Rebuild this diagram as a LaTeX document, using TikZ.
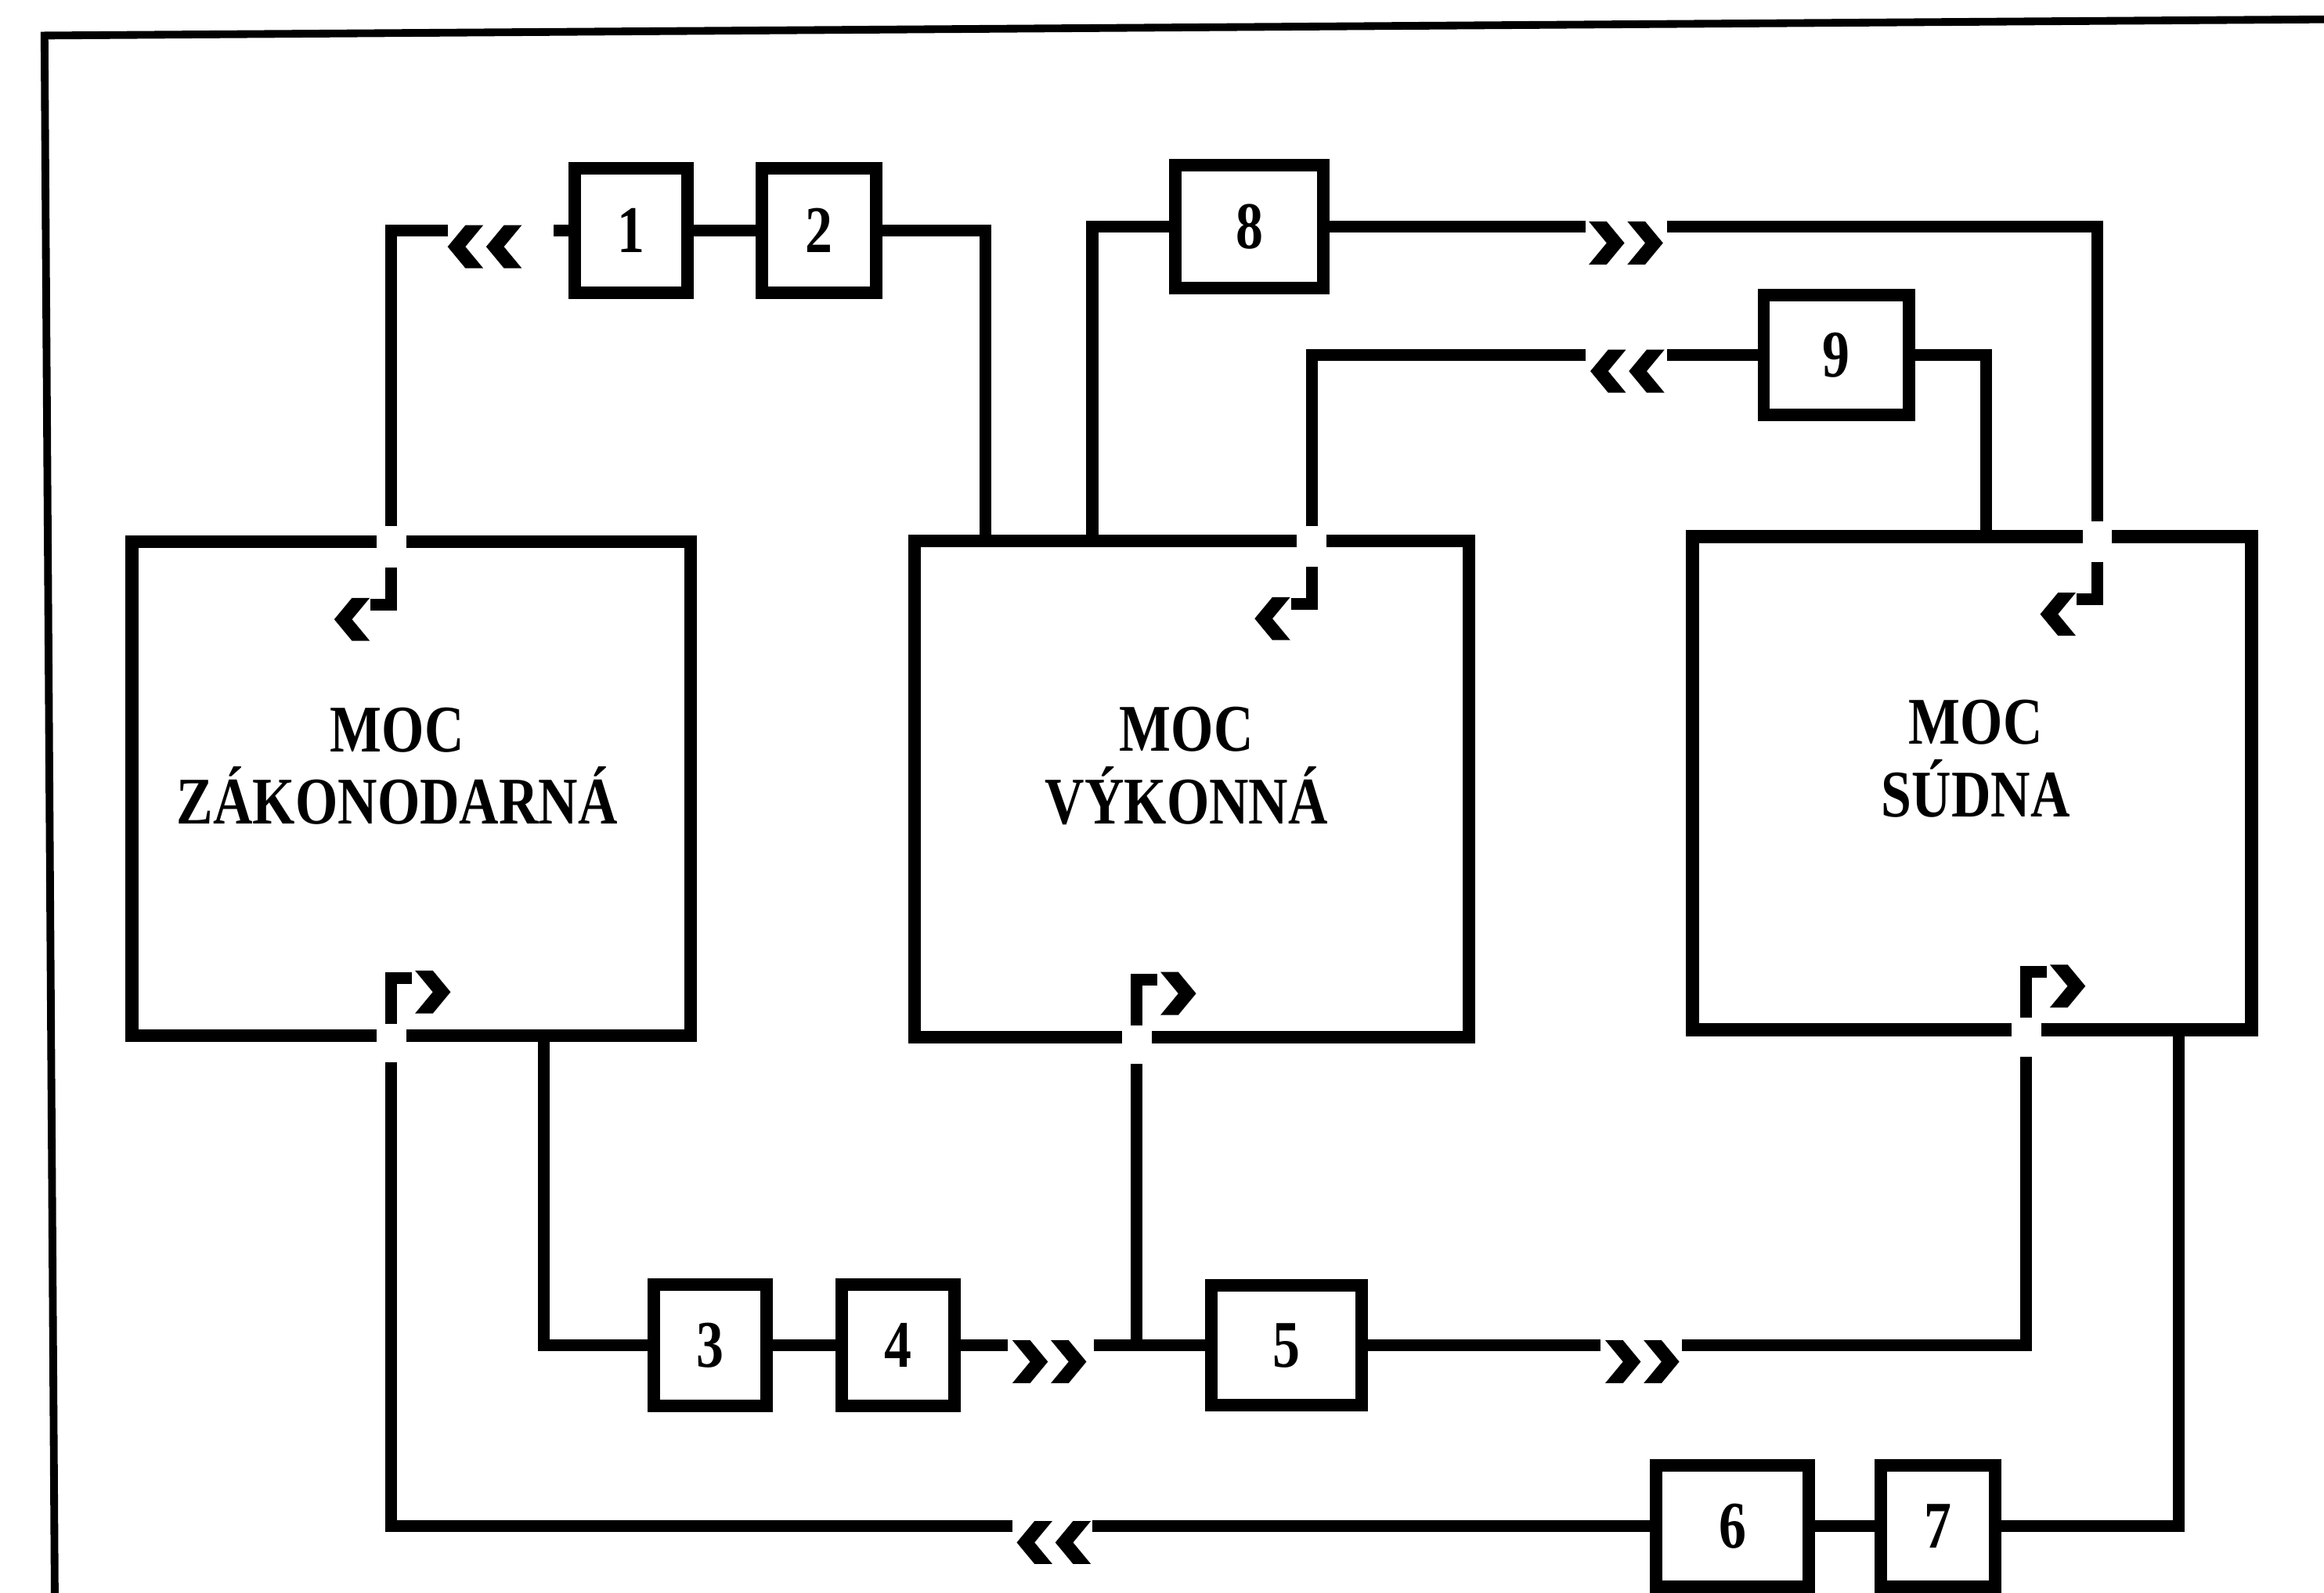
\documentclass[tikz,border=0pt]{standalone}
\usepackage{fontspec}
\newfontfamily\lblfont[FakeStretch=0.82]{Liberation Serif}
\begin{document}
\begin{tikzpicture}[x=0.5pt,y=-0.5pt,
  conn/.style={line width=4pt},
  frame/.style={line width=2.6pt},
  big/.style={draw, line width=4.4pt, inner sep=0pt},
  small/.style={draw, line width=4.2pt, inner sep=0pt,
    font={\lblfont\bfseries\fontsize{22.5pt}{24.5pt}\selectfont}},
  lbl/.style={align=center, inner sep=0pt,
    font={\lblfont\bfseries\fontsize{22.5pt}{24.5pt}\selectfont}},
  gap/.style={fill=white},
  chevL/.pic={\fill (0,0) -- (12,-14.5) -- (24,-14.5) -- (12,0) -- (24,14.5) -- (12,14.5) -- cycle;},
  chevR/.pic={\fill (0,0) -- (-12,-14.5) -- (-24,-14.5) -- (-12,0) -- (-24,14.5) -- (-12,14.5) -- cycle;}
]
\useasboundingbox (0,0) rectangle (1568,1075);
\fill[white] (0,0) rectangle (1568,1075);

% outer frame (open at right and bottom)
\draw[frame] (37,1085) -- (30,24) -- (1575,13);

% big boxes
\node[big, minimum width=377*0.5pt, minimum height=333.5*0.5pt] (L) at (277.5,532.25) {};
\node[big, minimum width=374*0.5pt, minimum height=335*0.5pt] (M) at (804,532.5) {};
\node[big, minimum width=377*0.5pt, minimum height=333*0.5pt] (R) at (1330.5,528.5) {};

% labels
\node[lbl] (tL) at (268,517) {MOC\\ZÁKONODARNÁ};
\node[lbl] (tM) at (800.5,517) {MOC\\VÝKONNÁ};
\node[lbl] (tR) at (1333,512) {MOC\\SÚDNA};

% small boxes
\node[small, minimum width=76*0.5pt, minimum height=84*0.5pt] (b1) at (426,155.5) {1};
\node[small, minimum width=77*0.5pt, minimum height=84*0.5pt] (b2) at (552.5,155.5) {2};
\node[small, minimum width=76*0.5pt, minimum height=82*0.5pt] (b3) at (479,908) {3};
\node[small, minimum width=76*0.5pt, minimum height=82*0.5pt] (b4) at (606,908) {4};
\node[small, minimum width=101*0.5pt, minimum height=81*0.5pt] (b5) at (868,908) {5};
\node[small, minimum width=103*0.5pt, minimum height=82*0.5pt] (b6) at (1169,1030) {6};
\node[small, minimum width=77*0.5pt, minimum height=82*0.5pt] (b7) at (1307.5,1030) {7};
\node[small, minimum width=100*0.5pt, minimum height=83*0.5pt] (b8) at (843,153) {8};
\node[small, minimum width=98*0.5pt, minimum height=81*0.5pt] (b9) at (1239,239.5) {9};

% gaps where lines cross the big boxes
\fill[gap] (254,358) rectangle (274,373);
\fill[gap] (254,691) rectangle (274,707);
\fill[gap] (875,357) rectangle (895,373);
\fill[gap] (757,692) rectangle (777,708);
\fill[gap] (1405,354) rectangle (1425,370);
\fill[gap] (1357,687) rectangle (1377,703);

% named coordinates
\coordinate (Lin) at (264,355);
\coordinate (Lout) at (264,717);
\coordinate (Min) at (885,355);
\coordinate (Mout) at (767,718);
\coordinate (Rin) at (1415,352);
\coordinate (Rout) at (1367,713);
\coordinate (m2) at (665,365);
\coordinate (m8) at (737,365);
\coordinate (r9) at (1340,362);
\coordinate (l3) at (367,699);
\coordinate (r7) at (1470,695);
\coordinate (t5) at (767,908);
\coordinate (a1) at (302,155.5);
\coordinate (a1e) at (373.5,155.5);
\coordinate (a8) at (1070,153);
\coordinate (a8e) at (1125,153);
\coordinate (a9) at (1070,239.5);
\coordinate (a9e) at (1125,239.5);
\coordinate (a4) at (680,908);
\coordinate (a4e) at (738,908);
\coordinate (a5) at (1080,908);
\coordinate (a5e) at (1135,908);
\coordinate (a6) at (683,1030);
\coordinate (a6e) at (737,1030);

% connectors
\draw[conn] (Lin) |- (a1);
\draw[conn] (a1e) -- (b1.west);
\draw[conn] (b1) -- (b2);
\draw[conn] (b2.east) -| (m2);
\draw[conn] (m8) |- (b8.west);
\draw[conn] (b8.east) -- (a8);
\draw[conn] (a8e) -| (Rin);
\draw[conn] (b9.west) -- (a9e);
\draw[conn] (a9) -| (Min);
\draw[conn] (b9.east) -| (r9);
\draw[conn] (l3) |- (b3.west);
\draw[conn] (b3) -- (b4);
\draw[conn] (b4.east) -- (a4);
\draw[conn] (a4e) -- (b5.west);
\draw[conn] (Mout) -- (t5);
\draw[conn] (b5.east) -- (a5);
\draw[conn] (a5e) -| (Rout);
\draw[conn] (r7) |- (b7.east);
\draw[conn] (b7) -- (b6);
\draw[conn] (b6.west) -- (a6e);
\draw[conn] (a6) -| (Lout);

% direction chevrons on the connectors
\pic at (302,166.5) {chevL}; \pic at (328,166.5) {chevL};
\pic at (1073,250.5) {chevL}; \pic at (1099,250.5) {chevL};
\pic at (686,1041) {chevL}; \pic at (712,1041) {chevL};
\pic at (1096,164) {chevR}; \pic at (1122,164) {chevR};
\pic at (707,919) {chevR}; \pic at (733,919) {chevR};
\pic at (1107,919) {chevR}; \pic at (1133,919) {chevR};

% entry markers (top of boxes)
\draw[conn] (264,383) -- (264,408) -- (250,408);
\pic at (225.5,418) {chevL};
\draw[conn] (885,382.5) -- (885,407.5) -- (871,407.5);
\pic at (846.5,417.5) {chevL};
\draw[conn] (1415,379.5) -- (1415,404.5) -- (1401,404.5);
\pic at (1376.5,414.5) {chevL};

% exit markers (bottom of boxes)
\draw[conn] (264,691) -- (264,660) -- (278,660);
\pic at (304,669.5) {chevR};
\draw[conn] (767,692) -- (767,661) -- (781,661);
\pic at (807,670.5) {chevR};
\draw[conn] (1367,687) -- (1367,656) -- (1381,656);
\pic at (1407,665.5) {chevR};
\end{tikzpicture}
\end{document}
